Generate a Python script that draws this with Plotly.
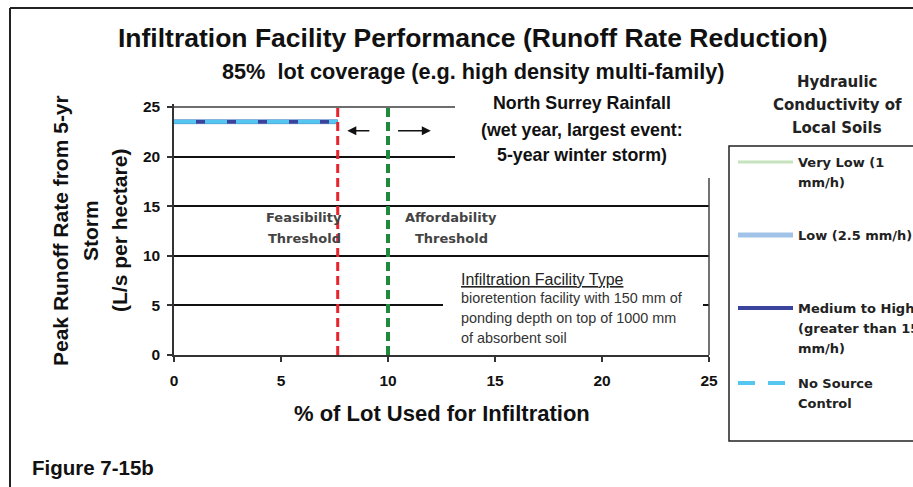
import plotly.graph_objects as go

# ---------------- data ----------------
pct_lot = [0, 7.65]                         # % of lot used for infiltration
very_low = [23.5, 23.5]                     # L/s per hectare
low = [23.5, 23.5]
medium_high = [23.5, 23.5]
no_source = [23.5, 23.5]
thresholds = [7.65, 10.0]                   # feasibility, affordability
x_ticks = [0, 5, 10, 15, 20, 25]
y_ticks = [0, 5, 10, 15, 20, 25]

series_names = ["Very Low (1 mm/h)", "Low (2.5 mm/h)",
                "Medium to High (greater than 15 mm/h)", "No Source Control"]
legend_lines = [["Very Low (1", "mm/h)"], ["Low (2.5 mm/h)"],
                ["Medium to High", "(greater than 15", "mm/h)"], ["No Source", "Control"]]
colors = ["#c6e3bd", "#a2c3e8", "#3a449c", "#55c6f0"]
widths = [3, 5, 4, 4]
dashes = ["solid", "solid", "solid", "22px,9px"]
series_vals = [very_low, low, medium_high, no_source]

W, H = 913, 487
L, R, T, B = 174, 913 - 709, 104, 487 - 355
PW, PH = W - L - R, H - T - B


def xp(px):
    return (px - L) / PW


def yp(py):
    return (H - B - py) / PH


ARIAL = "Liberation Sans, Arial, sans-serif"
DEJA = "DejaVu Sans, Verdana, sans-serif"

fig = go.Figure()

for name, vals, c, w, d in zip(series_names, series_vals, colors, widths, dashes):
    fig.add_trace(go.Scatter(x=pct_lot, y=vals, mode="lines", name=name,
                             line=dict(color=c, width=w, dash=d), showlegend=False))

th_colors = ["#e8232b", "#1f8a3c"]
th_widths = [3, 4]
for t, c, w in zip(thresholds, th_colors, th_widths):
    fig.add_trace(go.Scatter(x=[t, t], y=[0, 25.3], mode="lines", showlegend=False,
                             line=dict(color=c, width=w, dash="9px,5px")))

shapes = []
shapes.append(dict(type="line", xref="paper", yref="y", x0=0, x1=1, y0=25, y1=25,
                   line=dict(color="#8c8c8c", width=1.5), layer="above"))
shapes.append(dict(type="line", xref="paper", yref="paper", x0=1, x1=1, y0=0, y1=yp(107),
                   line=dict(color="#444", width=1.5), layer="above"))
shapes.append(dict(type="rect", xref="paper", yref="paper", x0=xp(455), x1=xp(715),
                   y0=yp(178), y1=yp(90), fillcolor="white", line=dict(width=0), layer="above"))
shapes.append(dict(type="rect", xref="paper", yref="paper", x0=xp(443), x1=xp(703),
                   y0=yp(352), y1=yp(263), fillcolor="white", line=dict(width=0), layer="above"))
shapes.append(dict(type="line", xref="paper", yref="paper", x0=xp(10), x1=xp(10),
                   y0=yp(495), y1=yp(8), line=dict(color="#222", width=2)))
shapes.append(dict(type="line", xref="paper", yref="paper", x0=xp(10), x1=xp(920),
                   y0=yp(8), y1=yp(8), line=dict(color="#222", width=2)))
shapes.append(dict(type="rect", xref="paper", yref="paper", x0=xp(729), x1=xp(930),
                   y0=yp(441), y1=yp(146), fillcolor="rgba(0,0,0,0)",
                   line=dict(color="#222", width=1.5)))
legend_y = [162, 235, 308, 383]
legend_dash = ["solid", "solid", "solid", "17px,13px"]
for c, w, d, ly in zip(colors, widths, legend_dash, legend_y):
    shapes.append(dict(type="line", xref="paper", yref="paper", x0=xp(738), x1=xp(793),
                       y0=yp(ly), y1=yp(ly), line=dict(color=c, width=w, dash=d)))

ann = []


def text(px, py, s, size, family=ARIAL, color="#111", xanchor="center", bold=True, **kw):
    ann.append(dict(xref="paper", yref="paper", x=xp(px), y=yp(py), text=s, showarrow=False,
                    xanchor=xanchor, yanchor="middle",
                    font=dict(size=size, family=family, color=color,
                              weight="bold" if bold else "normal"), **kw))


text(473, 38, "Infiltration Facility Performance (Runoff Rate Reduction)", 26.5)
text(473, 72, "85%  lot coverage (e.g. high density multi-family)", 21.7)
for s, py in zip(["North Surrey Rainfall", "(wet year, largest event:", "5-year winter storm)"],
                 [103, 130, 155]):
    text(582, py, s, 17.8)
for s, py in zip(["Hydraulic", "Conductivity of", "Local Soils"], [82, 105, 128]):
    text(837, py, s, 15, family=DEJA, color="#222")
for lines, ly in zip(legend_lines, legend_y):
    for i, s in enumerate(lines):
        text(796, ly + 20 * i, s, 13, family=DEJA, color="#222", xanchor="left")

for s, px, py in [("Feasibility", 304, 217), ("Threshold", 304, 238),
                  ("Affordability", 451, 217), ("Threshold", 451, 238)]:
    text(px, py, s, 13, family=DEJA, color="#444")

text(459, 279, "<u>Infiltration Facility Type</u>", 16, color="#222", xanchor="left", bold=False)
for s, py in zip(["bioretention facility with 150 mm of", "ponding depth on top of 1000 mm",
                  "of absorbent soil"], [298, 318, 338]):
    text(459, py, s, 14.4, color="#333", xanchor="left", bold=False)

for s, px in zip(["Peak Runoff Rate from 5-yr", "Storm", "(L/s per hectare)"], [60, 90, 119]):
    text(px, 231, s, 21, textangle=-90)
text(442, 413, "% of Lot Used for Infiltration", 22)
text(30, 467, "Figure 7-15b", 20.5, xanchor="left")

ann.append(dict(x=8.1, y=22.6, ax=9.2, ay=22.6, xref="x", yref="y", axref="x", ayref="y",
                showarrow=True, arrowhead=2, arrowsize=1.2, arrowwidth=1.5, arrowcolor="#111", text=""))
ann.append(dict(x=12.0, y=22.6, ax=10.4, ay=22.6, xref="x", yref="y", axref="x", ayref="y",
                showarrow=True, arrowhead=2, arrowsize=1.2, arrowwidth=1.5, arrowcolor="#111", text=""))

fig.update_layout(
    width=W, height=H, margin=dict(l=L, r=R, t=T, b=B, autoexpand=False),
    paper_bgcolor="white", plot_bgcolor="white", showlegend=False,
    shapes=shapes, annotations=ann,
    xaxis=dict(range=[0, 25], tickvals=x_ticks, showgrid=False, zeroline=False,
               showline=True, linecolor="#333", linewidth=1.5, ticks="outside", ticklen=5,
               tickcolor="#333", tickwidth=1.5, ticklabelstandoff=6,
               tickfont=dict(family=ARIAL, size=15.5, color="#111", weight="bold")),
    yaxis=dict(range=[0, 25.3], tickvals=y_ticks, showgrid=True, gridcolor="#111", gridwidth=1.5,
               zeroline=False, showline=True, linecolor="#333", linewidth=1.5, ticks="outside",
               ticklen=5, tickcolor="#333", tickwidth=1.5, ticklabelstandoff=4,
               tickfont=dict(family=ARIAL, size=15.5, color="#111", weight="bold")),
)

fig.write_html("out.html", config={"displayModeBar": False},
               post_script="document.body.style.margin='0';document.body.style.overflow='hidden';")
